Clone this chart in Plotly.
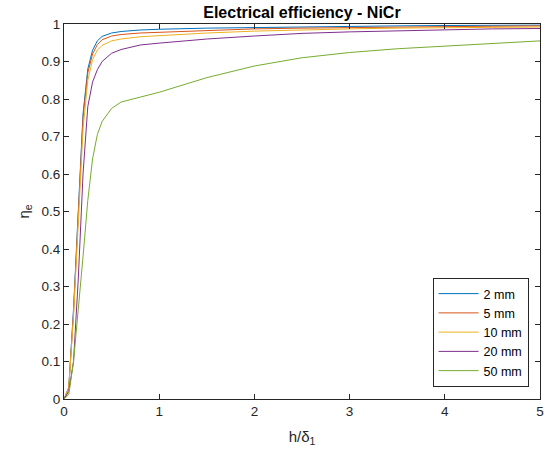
import plotly.graph_objects as go

x = [0, 0.05, 0.1, 0.15, 0.2, 0.25, 0.3, 0.35, 0.4, 0.5, 0.6, 0.8, 1, 1.5, 2, 2.5, 3, 3.5, 4, 4.5, 5]

names = ["2 mm", "5 mm", "10 mm", "20 mm", "50 mm"]
y_2mm = [0, 0.03, 0.24, 0.50, 0.76, 0.88, 0.93, 0.955, 0.967, 0.976, 0.980, 0.984, 0.986, 0.989, 0.991, 0.993, 0.994, 0.995, 0.996, 0.997, 0.997]
y_5mm = [0, 0.03, 0.23, 0.49, 0.75, 0.87, 0.92, 0.945, 0.958, 0.968, 0.972, 0.976, 0.978, 0.983, 0.987, 0.989, 0.991, 0.992, 0.993, 0.994, 0.995]
y_10mm = [0, 0.03, 0.22, 0.47, 0.72, 0.85, 0.905, 0.93, 0.943, 0.955, 0.960, 0.966, 0.969, 0.976, 0.981, 0.985, 0.987, 0.989, 0.990, 0.991, 0.992]
y_20mm = [0, 0.02, 0.10, 0.32, 0.60, 0.78, 0.845, 0.878, 0.90, 0.922, 0.932, 0.944, 0.949, 0.960, 0.968, 0.975, 0.979, 0.982, 0.985, 0.987, 0.988]
y_50mm = [0, 0.012, 0.10, 0.23, 0.38, 0.53, 0.64, 0.705, 0.74, 0.775, 0.792, 0.805, 0.818, 0.857, 0.888, 0.910, 0.924, 0.934, 0.941, 0.948, 0.955]
series = [y_2mm, y_5mm, y_10mm, y_20mm, y_50mm]
colors = ["#0072BD", "#D95319", "#EDB120", "#7E2F8E", "#77AC30"]

x_ticks = [0, 1, 2, 3, 4, 5]
y_ticks = [0, 0.1, 0.2, 0.3, 0.4, 0.5, 0.6, 0.7, 0.8, 0.9, 1]
y_tick_text = ["0", "0.1", "0.2", "0.3", "0.4", "0.5", "0.6", "0.7", "0.8", "0.9", "1"]

fig = go.Figure()
for n, ys, c in zip(names, series, colors):
    fig.add_trace(go.Scatter(x=x, y=ys, mode="lines", name=n,
                             line=dict(color=c, width=1)))

axis_common = dict(showline=True, linecolor="#262626", linewidth=1, mirror="all",
                   ticks="inside", ticklen=5, tickcolor="#262626", showgrid=False,
                   zeroline=False, tickfont=dict(family="Liberation Sans", size=13.5, color="#262626"))

fig.update_layout(
    width=550, height=456,
    margin=dict(l=63.5, r=6.5, t=24, b=57.3),
    paper_bgcolor="white", plot_bgcolor="white",
    title=dict(text="<b>Electrical efficiency - NiCr</b>", x=0.549, xanchor="center",
               y=1 - 12 / 456, yanchor="middle", yref="container",
               font=dict(family="Liberation Sans", size=16, color="black")),
    xaxis=dict(range=[0, 5], tickvals=x_ticks,
               title=dict(text="h/δ<sub>1</sub>", standoff=13,
                          font=dict(family="Liberation Sans", size=15, color="#262626")),
               **axis_common),
    yaxis=dict(range=[0, 1], tickvals=y_ticks, ticktext=y_tick_text,
               title=dict(text="η<sub>e</sub>", standoff=8,
                          font=dict(family="Liberation Sans", size=15, color="#262626")),
               **axis_common),
    legend=dict(x=0.976, xanchor="right", y=0.032, yanchor="bottom",
                bgcolor="white", bordercolor="#262626", borderwidth=1,
                font=dict(family="Liberation Sans", size=12.5, color="black"),
                tracegroupgap=0, itemwidth=40),
    showlegend=True,
)

fig.write_html("out.html")
